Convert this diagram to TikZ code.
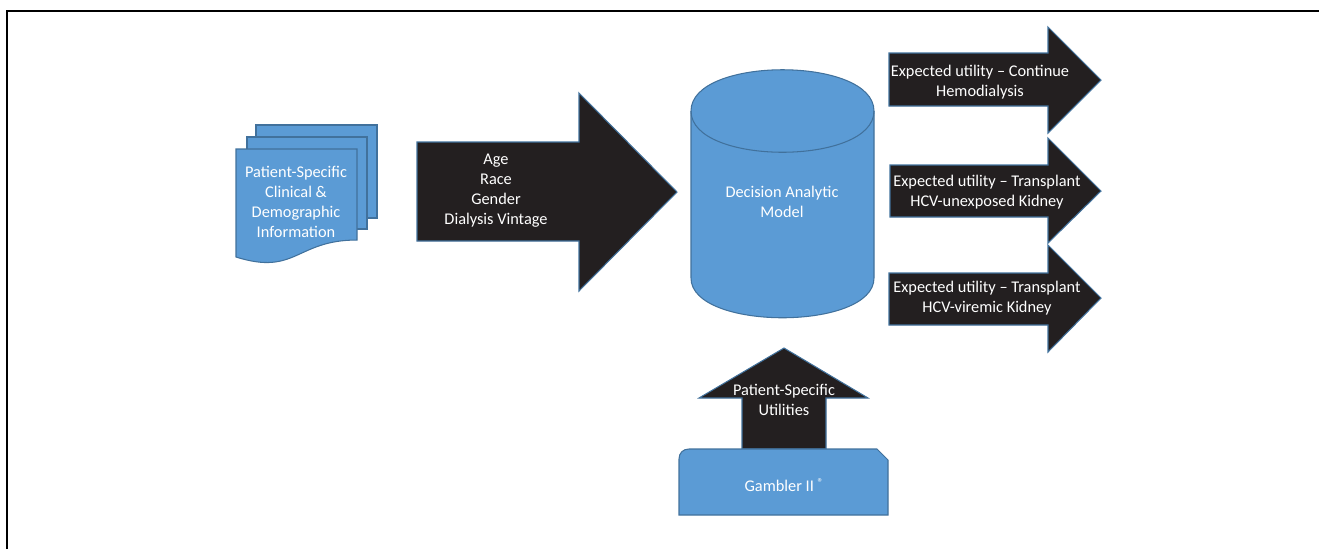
\documentclass[tikz,border=0pt]{standalone}
\usepackage{fontspec}
\setmainfont{Carlito}
\usetikzlibrary{positioning}
\definecolor{boxblue}{HTML}{5B9BD5}
\definecolor{edgeblue}{HTML}{41719C}
\definecolor{arrowblack}{HTML}{231F20}
\tikzset{
  bluebox/.style={
    fill=boxblue, draw=edgeblue, line width=0.6pt,
  },
  blockarrow/.style={
    fill=arrowblack, draw=edgeblue, line width=0.6pt,
  },
  lbl/.style={
    text=white, align=center, inner sep=0pt,
    font=\fontsize{9.3}{11.4}\selectfont,
  },
  frame/.style={
    draw=black, line width=1.2pt,
  }
}

\begin{document}
\begin{tikzpicture}[x=0.02cm, y=-0.02cm]

  \useasboundingbox (0,0) rectangle (1319,549);
  \draw[frame] (7,549) -- (7,11) -- (1319,11);

  % document stack
  \filldraw[bluebox] (256,125) rectangle (377,218);
  \filldraw[bluebox] (247,137) rectangle (367,229);
  \filldraw[bluebox] (236,149) -- (357,149) -- (357,240)
    .. controls (296,240) and (296,276) .. (236,257) -- cycle;
  \node[lbl] (doc) at (296,202)
    {Patient-Specific\\Clinical \&\\Demographic\\Information};

  % input arrow
  \filldraw[blockarrow] (417,142) -- (579,142) -- (579,93) -- (677,192)
    -- (579,291) -- (579,241) -- (417,241) -- cycle;
  \node[lbl] (inputs) at (496,191) {Age\\Race\\Gender\\Dialysis Vintage};

  % model cylinder
  \filldraw[bluebox] (691,111) -- (691,278)
    .. controls (691,331) and (874,331) .. (874,278) -- (874,111)
    .. controls (874,56) and (691,56) .. cycle;
  \draw[edgeblue, line width=0.6pt] (691,111)
    .. controls (691,166) and (874,166) .. (874,111);
  \node[lbl] (model) at (782,202) {Decision Analytic\\Model};

  % output arrows
  \filldraw[blockarrow] (889,53) -- (1048,53) -- (1048,27) -- (1101,80)
    -- (1048,133) -- (1048,106) -- (889,106) -- cycle;
  \node[lbl] (hd) at (980,82) {Expected utility -- Continue\\Hemodialysis};

  \filldraw[blockarrow] (890,165) -- (1048,165) -- (1048,138) -- (1101,191)
    -- (1048,243) -- (1048,217) -- (890,217) -- cycle;
  \node[lbl] (unexposed) at (987,192)
    {Expected utility -- Transplant\\HCV-unexposed Kidney};

  \filldraw[blockarrow] (889,273) -- (1048,273) -- (1048,245) -- (1101,298)
    -- (1048,352) -- (1048,325) -- (889,325) -- cycle;
  \node[lbl] (viremic) at (987,298)
    {Expected utility -- Transplant\\HCV-viremic Kidney};

  % utilities arrow and Gambler
  \filldraw[blockarrow] (742,449) -- (742,398) -- (699,398) -- (784,348)
    -- (868,398) -- (826,398) -- (826,449) -- cycle;
  \node[lbl] (utilities) at (784,400) {Patient-Specific\\Utilities};

  \filldraw[bluebox] (679,515) -- (679,459)
    .. controls (679,453) and (683,449) .. (689,449) -- (877,449)
    -- (888,460) -- (888,515) -- cycle;
  \node[lbl] (gambler) at (784,485)
    {Gambler II \raisebox{3pt}{\fontsize{6.5}{6.5}\selectfont ®}};

\end{tikzpicture}
\end{document}
